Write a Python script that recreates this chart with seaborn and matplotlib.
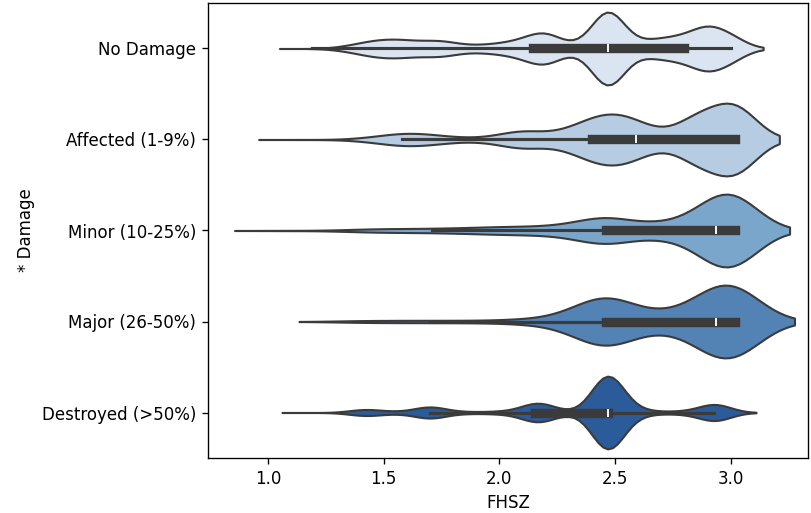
import numpy as np
import pandas as pd
import matplotlib
matplotlib.use("Agg")
import matplotlib.pyplot as plt
import seaborn as sns

# Damage classes, listed top to bottom
damage_levels = ["No Damage", "Affected (1-9%)", "Minor (10-25%)",
                 "Major (26-50%)", "Destroyed (>50%)"]

# FHSZ values seen in each damage class and the number of structures at each value
no_damage_fhsz = [1.19, 1.35, 1.45, 1.55, 1.65, 1.75, 1.85, 1.95, 2.05,
                  2.145, 2.21, 2.35, 2.47, 2.60, 2.70, 2.80, 2.90, 3.00]
no_damage_count = [1, 170, 469, 553, 384, 511, 170, 238, 375,
                   579, 954, 204, 3305, 341, 613, 681, 1533, 852]

affected_fhsz = [1.15, 1.45, 1.58, 1.70, 1.80, 1.95, 2.10, 2.28, 2.40,
                 2.50, 2.59, 2.70, 2.86, 3.02]
affected_count = [1, 22, 66, 44, 15, 22, 117, 73, 183,
                  197, 146, 37, 307, 482]

minor_fhsz = [1.09, 1.40, 1.55, 1.71, 1.85, 2.00, 2.15, 2.30, 2.46,
              2.68, 2.82, 2.935, 3.02]
minor_count = [1, 6, 8, 8, 10, 16, 16, 21, 80,
               36, 21, 104, 172]

major_fhsz = [1.39, 1.55, 1.70, 1.85, 2.00, 2.15, 2.32, 2.46,
              2.68, 2.82, 2.935, 3.02]
major_count = [1, 1, 1, 1, 1, 3, 5, 37,
               8, 5, 25, 40]

destroyed_fhsz = [1.20, 1.42, 1.55, 1.70, 1.85, 2.00, 2.155, 2.21,
                  2.47, 2.62, 2.78, 2.93, 2.97]
destroyed_count = [1, 184, 46, 345, 46, 69, 460, 161,
                   2300, 115, 69, 506, 1]

fill_colors = ["#dbe5f1", "#b5cce2", "#7ba6cc", "#5382b5", "#2c5b99"]

fhsz_by_level = [no_damage_fhsz, affected_fhsz, minor_fhsz, major_fhsz, destroyed_fhsz]
count_by_level = [no_damage_count, affected_count, minor_count, major_count, destroyed_count]

frames = []
for level, vals, cnts in zip(damage_levels, fhsz_by_level, count_by_level):
    frames.append(pd.DataFrame({"damage": level,
                                "FHSZ": np.repeat(np.asarray(vals, float), cnts)}))
df = pd.concat(frames, ignore_index=True)

fig = plt.figure(figsize=(811 / 120, 513 / 120), dpi=120)
ax = fig.add_axes([208 / 811, 55 / 513, 600 / 811, 455 / 513])

sns.violinplot(data=df, x="FHSZ", y="damage", hue="damage",
               order=damage_levels, hue_order=damage_levels,
               palette=fill_colors, saturation=1, density_norm="width",
               inner="box", legend=False, ax=ax)

ax.set_xlim(0.74, 3.335)
ax.set_xlabel("FHSZ")
ax.set_ylabel("* Damage")

fig.savefig("out.png", dpi=120)
